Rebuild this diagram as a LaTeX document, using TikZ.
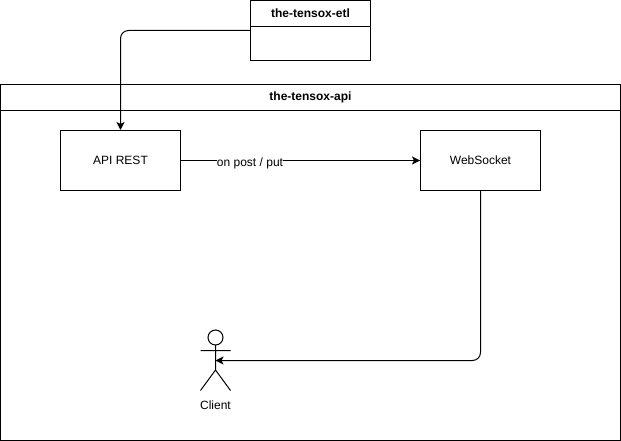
\documentclass[tikz,border=0pt]{standalone}
\usepackage{fontspec}
\setmainfont{Liberation Sans}
\usetikzlibrary{arrows.meta}
\tikzset{
 px/.style={x=1pt,y=-1pt},
 box/.style={draw=black,line width=1pt,fill=white,inner sep=0pt,font=\fontsize{12}{14}\selectfont},
 head/.style={box,font=\fontsize{12}{14}\selectfont\bfseries},
 conn/.style={draw=black,line width=1pt,rounded corners=8pt,-{Stealth[length=8pt,width=8pt,inset=2pt]}},
 lbl/.style={inner sep=0pt,font=\fontsize{12}{14}\selectfont}
}
\begin{document}
\begin{tikzpicture}[px]
\useasboundingbox (0,0) rectangle (621,441);
\node[box,minimum width=120pt,minimum height=60pt] (etlbody) at (310.5,30.5) {};
\node[head,minimum width=120pt,minimum height=26pt] (etl) at (310.5,13.5) {\raisebox{-1pt}{the-tensox-etl}};
\node[box,minimum width=620pt,minimum height=356pt] (apibody) at (310.5,262.5) {};
\node[head,minimum width=620pt,minimum height=26pt] (api) at (310.5,97.5) {\raisebox{-2pt}{the-tensox-api}};
\node[box,minimum width=120pt,minimum height=60pt] (rest) at (120.5,160.5) {\raisebox{-1pt}{API REST}};
\node[box,minimum width=120pt,minimum height=60pt] (ws) at (480.5,160.5) {\raisebox{-1pt}{WebSocket}};
% actor
\coordinate (headc) at (215.5,337.5);
\draw[line width=1pt] (headc) circle (7.5pt);
\coordinate (neck) at (215.5,345);
\coordinate (hip) at (215.5,370);
\coordinate (armL) at (200.5,350.5);
\coordinate (armR) at (230.5,350.5);
\coordinate (footL) at (200.5,390.5);
\coordinate (footR) at (230.5,390.5);
\draw[line width=1pt] (neck) -- (hip) (armL) -- (armR) (hip) -- (footL) (hip) -- (footR);
\coordinate (clientport) at (215.5,360.5);
\node[lbl] (clientlabel) at (215.5,405.5) {Client};
\draw[conn] (etlbody.west |- 0,30.5) -- (120.5,30.5) -- (rest.north);
\draw[conn] (rest.east) -- (ws.west);
\node[lbl,fill=white] (post) at (250,163.5) {on post / put};
\draw[conn] (ws.south) -- (480.5,360.5) -- (clientport);
\end{tikzpicture}
\end{document}
